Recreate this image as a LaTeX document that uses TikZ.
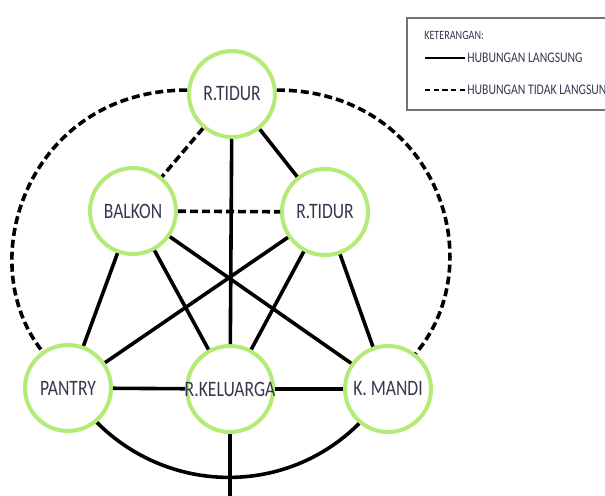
\documentclass[tikz,border=0pt]{standalone}
\usepackage{fontspec}
\setmainfont[FakeStretch=0.8]{Carlito}
\definecolor{ringgreen}{RGB}{180,234,118}
\definecolor{labelink}{RGB}{55,55,80}
\tikzset{
  room/.style={circle,draw=ringgreen,line width=3pt,fill=white,minimum size=64.5pt,inner sep=0pt,text=labelink,font=\fontsize{16.5}{18}\selectfont},
  link/.style={line width=2.7pt},
  weaklink/.style={line width=2.7pt,dash pattern=on 6pt off 3pt},
  legendtext/.style={anchor=west,inner sep=0pt,text=labelink,font=\fontsize{11}{13}\selectfont}
}
\begin{document}
\begin{tikzpicture}[x=0.75pt,y=-0.75pt]
\useasboundingbox (0,0) rectangle (605,495);
\clip (0,0) rectangle (605,495);

\node[room] (tidurA) at (232,94) {R.TIDUR};
\node[room] (balkon) at (133,211) {BALKON};
\node[room] (tidurB) at (325,212) {R.TIDUR};
\node[room] (pantry) at (68,388) {PANTRY};
\node[room] (keluarga) at (230,389) {\makebox[0pt]{R.KELUARGA}};
\node[room] (mandi) at (388,389) {K. MANDI};
\coordinate (stem) at (230,500);

\draw[weaklink] (tidurA) -- (balkon);
\draw[weaklink] (balkon) -- (tidurB);
\draw[link] (tidurA) -- (tidurB);
\draw[link] (tidurA) -- (keluarga);
\draw[link] (balkon) -- (pantry);
\draw[link] (balkon) -- (keluarga);
\draw[link] (balkon) -- (mandi);
\draw[link] (tidurB) -- (pantry);
\draw[link] (tidurB) -- (keluarga);
\draw[link] (tidurB) -- (mandi);
\draw[link] (pantry) -- (keluarga);
\draw[link] (keluarga) -- (mandi);
\draw[link] (keluarga) -- (stem);
\draw[link] (pantry.-50) to[out=-45,in=-135] (mandi.-130);
\draw[weaklink] (tidurA.175) .. controls (30,90) and (-30,260) .. (pantry.125);
\draw[weaklink] (tidurA.5) .. controls (434,90) and (494,260) .. (mandi.52);

\draw[line width=1.1pt,black!55] (407,18) rectangle (640,110);
\node[legendtext,font=\fontsize{9.5}{11}\selectfont] (ket) at (424,35) {KETERANGAN:};
\coordinate (solidA) at (425,58);
\coordinate (solidB) at (465,58);
\coordinate (dashA) at (425,90);
\coordinate (dashB) at (465,90);
\draw[line width=1.5pt] (solidA) -- (solidB);
\draw[line width=1.1pt,dash pattern=on 4pt off 2.5pt] (dashA) -- (dashB);
\node[legendtext] (langsung) at (467,58) {HUBUNGAN LANGSUNG};
\node[legendtext] (tidaklangsung) at (467,90) {HUBUNGAN TIDAK LANGSUNG};

\end{tikzpicture}
\end{document}
